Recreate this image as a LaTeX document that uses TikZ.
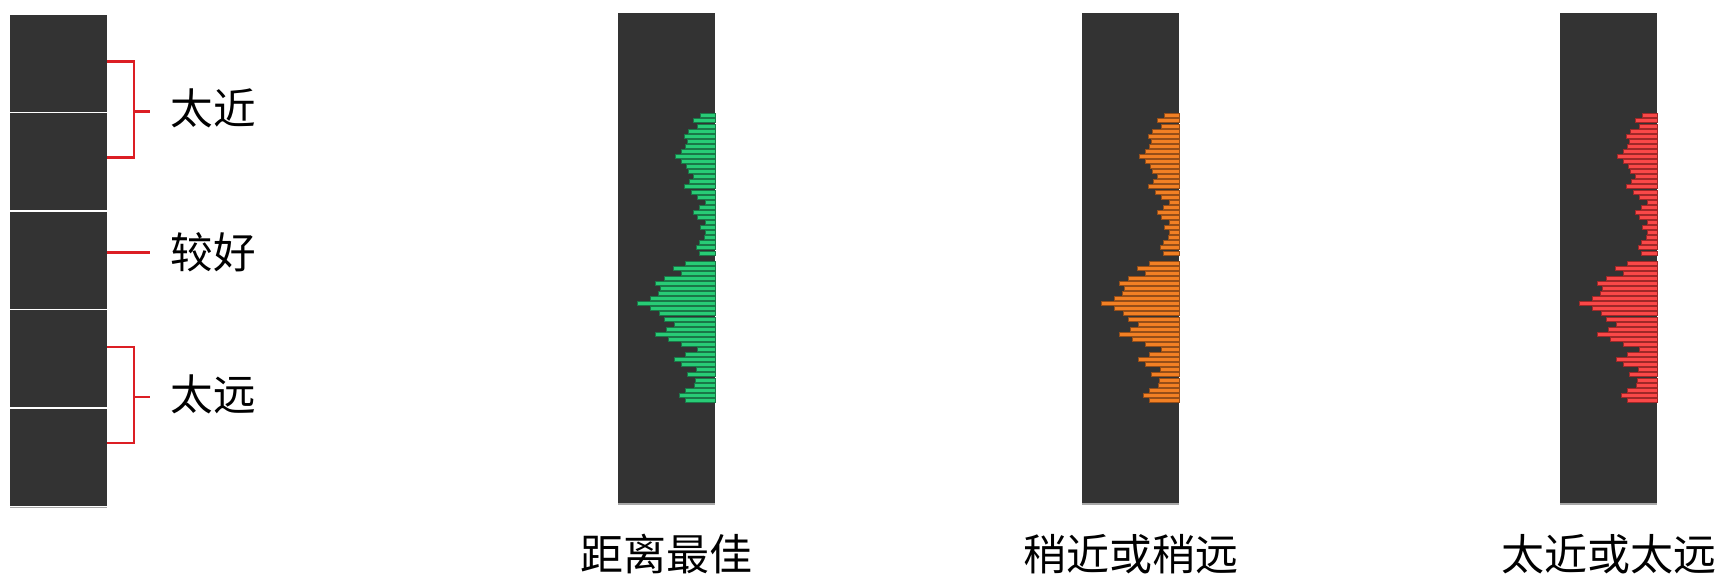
\documentclass[tikz,border=0pt]{standalone}
\usepackage{fontspec}
\newfontfamily\cjk{Noto Sans CJK SC}
\definecolor{panel}{HTML}{333333}
\definecolor{panelEdge}{HTML}{A8A8A8}
\definecolor{brk}{RGB}{220,30,36}
\definecolor{gfill}{RGB}{40,204,118}
\definecolor{gedge}{RGB}{26,120,72}
\definecolor{ofill}{RGB}{242,128,36}
\definecolor{oedge}{RGB}{150,78,24}
\definecolor{rfill}{RGB}{250,72,72}
\definecolor{redge}{RGB}{160,40,40}
\newcommand\barlist{0/15.0,1/21.7,2/17.7,3/26.3,4/31.0,5/28.0,6/29.3,7/33.7,8/40.0,9/33.7,10/29.0,11/26.3,12/21.3,13/25.3,14/31.0,15/24.0,16/17.7,17/9.3,18/15.3,19/21.3,20/17.7,21/9.7,22/14.3,23/10.0,24/10.7,25/15.7,26/18.7,27/15.7,29/29.3,30/41.3,31/34.0,32/50.7,33/59.3,34/54.3,35/56.7,36/64.3,37/77.3,38/64.3,39/55.7,40/50.7,41/41.0,42/49.0,43/59.3,44/46.3,45/34.0,46/18.0,47/29.3,48/41.0,49/34.0,50/18.7,51/27.7,52/20.0,53/20.7,54/29.7,55/36.0,56/30.0}
\newcommand\drawcolumn[3]{%
  \fill[panel] (#1,13) rectangle (#1+97,504);
  \draw[panelEdge,line width=0.6pt] (#1,504) -- (#1+97,504);
  \foreach \i/\L in \barlist {
    \filldraw[fill=#2,draw=#3,line width=0.35pt]
      (#1+97-\L,115.7+\i*5.08-2) rectangle (#1+97,115.7+\i*5.08+2);
  }%
}
\tikzset{
  sidelabel/.style={anchor=base west,inner sep=0pt,font=\cjk\fontsize{21.3pt}{25pt}\selectfont},
  caplabel/.style={anchor=base,inner sep=0pt,font=\cjk\fontsize{21.5pt}{26pt}\selectfont},
  bracket/.style={brk,line width=1.2pt}
}
\begin{document}
\begin{tikzpicture}[x=0.5pt,y=-0.5pt]
\useasboundingbox (0,0) rectangle (1717,577);
% left stack
\foreach \k in {0,...,4} {
  \fill[panel] (10,15+\k*98.4) rectangle (107,15+\k*98.4+97);
}
\draw[panelEdge,line width=0.6pt] (10,507.6) -- (107,507.6);
% labels
\node[sidelabel] (near) at (170.5,125) {太近};
\node[sidelabel] (good) at (170.5,268.5) {较好};
\node[sidelabel] (far) at (170.5,410.5) {太远};
% brackets
\coordinate (n1) at (107,61.7);
\coordinate (n2) at (107,157.7);
\coordinate (nt) at (150,111.7);
\coordinate (g1) at (107,252.7);
\coordinate (gt) at (150,252.7);
\coordinate (f1) at (107,347);
\coordinate (f2) at (107,443);
\coordinate (ft) at (150,397);
\draw[bracket] (n1) -- (134,61.7) -- (134,157.7) -- (n2);
\draw[bracket] (134,111.7) -- (nt);
\draw[bracket] (g1) -- (gt);
\draw[bracket] (f1) -- (134,347) -- (134,443) -- (f2);
\draw[bracket] (134,397) -- (ft);
% columns
\drawcolumn{618}{gfill}{gedge}
\drawcolumn{1082}{ofill}{oedge}
\drawcolumn{1560}{rfill}{redge}
% captions
\node[caplabel] (c1) at (666.5,570) {距离最佳};
\node[caplabel] (c2) at (1130.5,570) {稍近或稍远};
\node[caplabel] (c3) at (1608.5,570) {太近或太远};
\end{tikzpicture}
\end{document}
